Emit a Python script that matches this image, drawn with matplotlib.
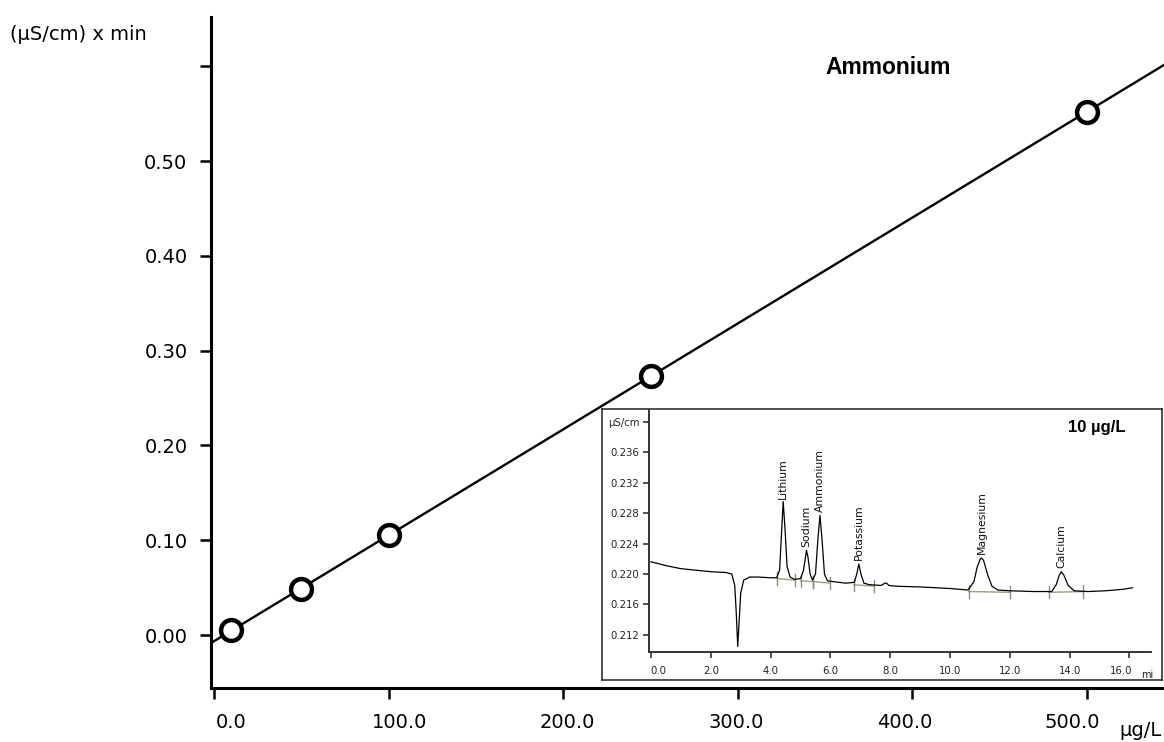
import matplotlib
matplotlib.use('Agg')
import matplotlib.pyplot as plt
import numpy as np
from matplotlib.transforms import ScaledTranslation

W, H, DPI = 1164, 742, 100

# ---------------- main calibration data ----------------
conc = [10, 50, 100, 250, 500]
area = [0.005, 0.049, 0.105, 0.273, 0.552]
x_ticks = [0, 100, 200, 300, 400, 500]
x_tick_labels = ['0.0', '100.0', '200.0', '300.0', '400.0', '500.0']
y_ticks = [0.0, 0.1, 0.2, 0.3, 0.4, 0.5, 0.6]
y_tick_labels = ['0.00', '0.10', '0.20', '0.30', '0.40', '0.50', '']

# ---------------- inset chromatogram data ----------------
time_min = [0.0, 0.5, 1.0, 1.5, 2.0, 2.5, 2.7, 2.8, 2.85, 2.9, 2.95, 3.0, 3.1, 3.3, 3.6,
            4.0, 4.2, 4.3, 4.36, 4.42, 4.48, 4.55, 4.65, 4.8, 5.0, 5.1, 5.15, 5.2, 5.25,
            5.32, 5.4, 5.5, 5.58, 5.65, 5.72, 5.8, 5.9, 6.1, 6.5, 6.8, 6.88, 6.95, 7.02,
            7.12, 7.3, 7.7, 7.82, 7.88, 7.95, 8.2, 9.0, 10.0, 10.6, 10.8, 10.9, 11.0,
            11.05, 11.12, 11.25, 11.4, 11.6, 12.0, 12.8, 13.4, 13.55, 13.65, 13.72,
            13.8, 13.95, 14.15, 14.6, 15.2, 15.8, 16.1]
signal = [0.2216, 0.2211, 0.2207, 0.2205, 0.2203, 0.2202, 0.2200, 0.2185, 0.2150, 0.2105,
          0.2140, 0.2175, 0.2192, 0.2196, 0.2196, 0.2195, 0.2195, 0.2205, 0.2250, 0.2295,
          0.2260, 0.2210, 0.2196, 0.2193, 0.2194, 0.2205, 0.2218, 0.2231, 0.2222, 0.2200,
          0.2192, 0.2200, 0.2245, 0.2277, 0.2245, 0.2200, 0.2191, 0.2190, 0.2188, 0.2189,
          0.2200, 0.2213, 0.2200, 0.2188, 0.2186, 0.2185, 0.2188, 0.2188, 0.2185, 0.2184,
          0.2183, 0.2181, 0.2179, 0.2190, 0.2208, 0.2219, 0.2221, 0.2218, 0.2200, 0.2184,
          0.2179, 0.2178, 0.2177, 0.2177, 0.2186, 0.2198, 0.2203, 0.2199, 0.2185, 0.2178,
          0.2177, 0.2178, 0.2180, 0.2182]
peak_names = ['Lithium', 'Sodium', 'Ammonium', 'Potassium', 'Magnesium', 'Calcium']
peak_times = [4.42, 5.19, 5.65, 6.95, 11.05, 13.72]
peak_label_base = [0.2299, 0.2236, 0.2281, 0.2218, 0.2226, 0.2208]
base_start_t = [4.22, 5.0, 5.42, 6.78, 10.62, 13.3]
base_start_v = [0.2194, 0.2191, 0.2190, 0.2186, 0.2177, 0.2176]
base_end_t = [4.8, 5.42, 6.0, 7.45, 12.0, 14.45]
base_end_v = [0.2192, 0.2190, 0.2188, 0.2184, 0.2176, 0.2177]
inset_y_ticks = [0.212, 0.216, 0.220, 0.224, 0.228, 0.232, 0.236, 0.240]
inset_y_labels = ['0.212', '0.216', '0.220', '0.224', '0.228', '0.232', '0.236', 'µS/cm']
inset_x_ticks = [0, 2, 4, 6, 8, 10, 12, 14, 16]
inset_x_labels = ['0.0', '2.0', '4.0', '6.0', '8.0', '10.0', '12.0', '14.0', '16.0']


def px_rect(l, t, r, b):
    return [l / W, 1 - b / H, (r - l) / W, (b - t) / H]


def shift_labels(fig, labels, offsets_px):
    for lab, dx in zip(labels, offsets_px):
        lab.set_transform(lab.get_transform() +
                          ScaledTranslation(dx / DPI, 0, fig.dpi_scale_trans))


plt.rcParams['font.family'] = ['DejaVu Sans']
fig = plt.figure(figsize=(W / DPI, H / DPI), dpi=DPI)

# ---------------- main axes ----------------
ax = fig.add_axes(px_rect(211, 17, 1164, 688))
ax.set_xlim(-1.72, 544.1)
ax.set_ylim(-0.0559, 0.6519)
for s in ['top', 'right']:
    ax.spines[s].set_visible(False)
for s in ['left', 'bottom']:
    ax.spines[s].set_linewidth(2.2)
ax.set_xticks(x_ticks)
ax.set_xticklabels(x_tick_labels)
ax.set_yticks(y_ticks)
ax.set_yticklabels(y_tick_labels)
ax.tick_params(axis='both', direction='out', length=8, width=1.8, labelsize=14, colors='black')
ax.tick_params(axis='x', pad=10)
ax.tick_params(axis='y', pad=9)
shift_labels(fig, ax.get_xticklabels(), [17, 11, 4, -2, -8, -15])

slope, intercept = np.polyfit(conc, area, 1)
xl = np.array(ax.get_xlim())
ax.plot(xl, slope * xl + intercept, color='black', lw=1.7, zorder=2, clip_on=True)
ax.plot(conc, area, 'o', ms=15, mfc='white', mec='black', mew=3.2, zorder=3, clip_on=False)

fig.text(10 / W, 1 - 35 / H, '(µS/cm) x min', fontsize=14, ha='left', va='center')
fig.text(825 / W, 1 - 67 / H, 'Ammonium', fontsize=16.5, fontweight='bold',
         family='Liberation Sans', ha='left', va='center')
fig.text(1119 / W, 1 - 731 / H, 'µg/L', fontsize=14, ha='left', va='center')

# ---------------- inset frame ----------------
box = fig.add_axes(px_rect(602, 409, 1162, 680))
box.set_xticks([])
box.set_yticks([])
box.set_facecolor('white')
for s in box.spines.values():
    s.set_linewidth(1.1)
    s.set_color('#222222')

# ---------------- inset chromatogram ----------------
ins = fig.add_axes(px_rect(649, 410, 1151, 652))
ins.patch.set_alpha(0)
ins.set_xlim(-0.067, 16.72)
ins.set_ylim(0.20977, 0.24151)
for s in ['top', 'right']:
    ins.spines[s].set_visible(False)
for s in ['left', 'bottom']:
    ins.spines[s].set_linewidth(1.4)
    ins.spines[s].set_color('#333333')
ins.set_xticks(inset_x_ticks)
ins.set_xticklabels(inset_x_labels)
ins.set_yticks(inset_y_ticks)
ins.set_yticklabels(inset_y_labels)
ins.tick_params(axis='both', direction='out', length=4, width=1.2, labelsize=7.3,
                colors='#333333', labelcolor='#222222')
ins.tick_params(axis='x', pad=6)
ins.tick_params(axis='y', pad=3)
shift_labels(fig, ins.get_xticklabels(), [7, 0, 0, 0, 0, 0, 0, 0, -8])

# baselines
for t0, v0, t1, v1 in zip(base_start_t, base_start_v, base_end_t, base_end_v):
    ins.plot([t0, t1], [v0, v1], color='#a39b7e', lw=1.0, zorder=2)
    for tt, vv in ((t0, v0), (t1, v1)):
        ins.plot([tt, tt], [vv - 0.0008, vv + 0.0008], color='#8c8c80', lw=1.0, zorder=2)

ins.plot(time_min, signal, color='black', lw=0.9, zorder=3)

for name, t, v in zip(peak_names, peak_times, peak_label_base):
    ins.text(t, v, name, rotation=90, fontsize=7.8, ha='center', va='bottom', color='#111111')

fig.text(1068 / W, 1 - 428 / H, '10 µg/L', fontsize=12, fontweight='bold',
         family='Liberation Sans', ha='left', va='center')
fig.text(1141 / W, 1 - 675 / H, 'mi', fontsize=7, ha='left', va='center', color='#222222')

fig.savefig('out.png', dpi=DPI)
